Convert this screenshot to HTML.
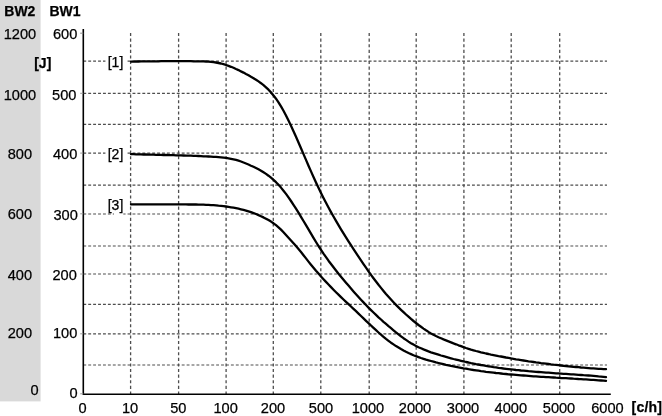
<!DOCTYPE html>
<html lang="en">
<head>
<meta charset="utf-8">
<title>BW1 / BW2 braking work chart</title>
<style>
html,body{margin:0;padding:0;background:#fff;}
body{width:662px;height:416px;overflow:hidden;}
svg{display:block;}
text{font-family:"Liberation Sans",Arial,Helvetica,sans-serif;font-size:14.6px;fill:#000;stroke:#000;stroke-width:.25px;}
.b{font-size:14px;font-weight:bold;}
.g{stroke:#4e4e4e;stroke-width:1.2;stroke-dasharray:2.9 2.02;fill:none;}
.gv{stroke:#4e4e4e;stroke-width:1.3;stroke-dasharray:3.1 2.5;fill:none;}
.ax{stroke:#000;stroke-width:1.6;fill:none;}
.cv{stroke:#000;stroke-width:2.3;fill:none;stroke-linejoin:round;stroke-linecap:round;}
.l{font-size:14px;}
</style>
</head>
<body>
<svg width="662" height="416" viewBox="0 0 662 416">
<rect x="0" y="0" width="662" height="416" fill="#fff"/>
<rect x="0" y="0" width="40.6" height="401.4" fill="#d9d9d9"/>

<g class="g">
<line x1="83.3" y1="93.3" x2="607.0" y2="93.3"/>
<line x1="83.3" y1="153.1" x2="607.0" y2="153.1"/>
<line x1="83.3" y1="214.0" x2="607.0" y2="214.0"/>
<line x1="83.3" y1="274.0" x2="607.0" y2="274.0"/>
<line x1="83.3" y1="333.9" x2="607.0" y2="333.9"/>
<line x1="83.3" y1="61.2" x2="607.0" y2="61.2"/>
<line x1="83.3" y1="124.3" x2="607.0" y2="124.3"/>
<line x1="83.3" y1="185.2" x2="607.0" y2="185.2"/>
<line x1="83.3" y1="246.0" x2="607.0" y2="246.0"/>
<line x1="83.3" y1="304.3" x2="607.0" y2="304.3"/>
<line x1="83.3" y1="365.0" x2="607.0" y2="365.0"/>
</g>
<g class="gv">
<line x1="130.6" y1="33.0" x2="130.6" y2="396.2"/>
<line x1="178.6" y1="33.0" x2="178.6" y2="396.2"/>
<line x1="226.1" y1="33.0" x2="226.1" y2="396.2"/>
<line x1="273.3" y1="33.0" x2="273.3" y2="396.2"/>
<line x1="320.8" y1="33.0" x2="320.8" y2="396.2"/>
<line x1="369.2" y1="33.0" x2="369.2" y2="396.2"/>
<line x1="416.2" y1="33.0" x2="416.2" y2="396.2"/>
<line x1="463.9" y1="33.0" x2="463.9" y2="396.2"/>
<line x1="511.2" y1="33.0" x2="511.2" y2="396.2"/>
<line x1="559.7" y1="33.0" x2="559.7" y2="396.2"/>
</g>
<rect x="105.5" y="58.2" width="20.5" height="6" fill="#fff"/>
<rect x="105.5" y="150.1" width="20.5" height="6" fill="#fff"/>
<rect x="114" y="211.5" width="9.3" height="5" fill="#fff"/>
<path class="ax" d="M83.3 29 V394.2 H610.8"/>
<path d="M80.2 33.2 H83.3" stroke="#888" stroke-width="1" fill="none"/>
<path d="M80.2 93.3 H83.3 M80.2 153.1 H83.3 M80.2 213.8H83.3 M80.2 274H83.3 M80.2 333.8H83.3 M80.2 393.8H83.3" stroke="#999" stroke-width="1" fill="none"/>
<path class="cv" d="M131.0 61.6L133.5 61.6 136.0 61.5 138.5 61.5 141.0 61.4 143.5 61.4 146.0 61.4 148.5 61.3 151.0 61.3 153.5 61.3 156.0 61.3 158.5 61.3 161.0 61.2 163.5 61.2 166.0 61.2 168.5 61.2 171.0 61.2 173.5 61.2 176.0 61.2 178.5 61.2 181.0 61.2 183.5 61.2 186.0 61.2 188.5 61.2 191.0 61.2 193.5 61.3 196.0 61.3 198.5 61.3 201.0 61.3 203.5 61.4 206.0 61.5 208.5 61.6 211.0 61.8 213.5 62.1 216.0 62.5 218.5 63.0 221.0 63.5 223.5 64.2 226.0 65.0 228.5 65.9 231.0 66.8 233.5 67.8 236.0 69.0 238.5 70.1 241.0 71.4 243.5 72.6 246.0 74.0 248.5 75.3 251.0 76.8 253.5 78.2 256.0 79.7 258.5 81.4 261.0 83.2 263.5 85.1 266.0 87.3 268.5 89.7 271.0 92.4 273.5 95.4 276.0 98.7 278.5 102.3 281.0 106.4 283.5 110.8 286.0 115.5 288.5 120.5 291.0 125.7 293.5 131.2 296.0 136.8 298.5 142.5 301.0 148.3 303.5 154.1 306.0 159.9 308.5 165.7 311.0 171.4 313.5 176.9 316.0 182.4 318.5 187.7 321.0 192.9 323.5 197.9 326.0 202.7 328.5 207.5 331.0 212.1 333.5 216.5 336.0 220.9 338.5 225.2 341.0 229.3 343.5 233.4 346.0 237.4 348.5 241.3 351.0 245.2 353.5 249.1 356.0 252.9 358.5 256.7 361.0 260.4 363.5 264.1 366.0 267.7 368.5 271.3 371.0 274.8 373.5 278.2 376.0 281.5 378.5 284.8 381.0 287.9 383.5 291.0 386.0 294.0 388.5 296.8 391.0 299.6 393.5 302.3 396.0 304.9 398.5 307.4 401.0 309.8 403.5 312.2 406.0 314.5 408.5 316.7 411.0 318.9 413.5 321.0 416.0 323.0 418.5 325.0 421.0 326.8 423.5 328.6 426.0 330.3 428.5 331.9 431.0 333.4 433.5 334.7 436.0 336.0 438.5 337.2 441.0 338.3 443.5 339.4 446.0 340.4 448.5 341.4 451.0 342.4 453.5 343.4 456.0 344.3 458.5 345.3 461.0 346.2 463.5 347.1 466.0 348.0 468.5 348.8 471.0 349.6 473.5 350.3 476.0 351.0 478.5 351.6 481.0 352.3 483.5 352.9 486.0 353.5 488.5 354.0 491.0 354.6 493.5 355.1 496.0 355.6 498.5 356.1 501.0 356.5 503.5 357.0 506.0 357.5 508.5 357.9 511.0 358.4 513.5 358.8 516.0 359.3 518.5 359.7 521.0 360.1 523.5 360.5 526.0 360.9 528.5 361.3 531.0 361.6 533.5 362.0 536.0 362.4 538.5 362.7 541.0 363.1 543.5 363.4 546.0 363.7 548.5 364.0 551.0 364.4 553.5 364.7 556.0 364.9 558.5 365.2 561.0 365.5 563.5 365.8 566.0 366.0 568.5 366.3 571.0 366.5 573.5 366.8 576.0 367.0 578.5 367.2 581.0 367.5 583.5 367.7 586.0 367.9 588.5 368.1 591.0 368.3 593.5 368.4 596.0 368.6 598.5 368.8 601.0 368.9 603.5 369.1 606.0 369.2"/>
<path class="cv" d="M131.0 154.1L133.5 154.2 136.0 154.3 138.5 154.3 141.0 154.4 143.5 154.5 146.0 154.5 148.5 154.6 151.0 154.7 153.5 154.7 156.0 154.8 158.5 154.8 161.0 154.9 163.5 155.0 166.0 155.0 168.5 155.1 171.0 155.1 173.5 155.2 176.0 155.3 178.5 155.3 181.0 155.4 183.5 155.5 186.0 155.6 188.5 155.7 191.0 155.7 193.5 155.8 196.0 155.9 198.5 156.0 201.0 156.1 203.5 156.3 206.0 156.4 208.5 156.5 211.0 156.6 213.5 156.8 216.0 156.9 218.5 157.1 221.0 157.3 223.5 157.6 226.0 157.9 228.5 158.3 231.0 158.8 233.5 159.3 236.0 159.9 238.5 160.7 241.0 161.5 243.5 162.5 246.0 163.5 248.5 164.5 251.0 165.7 253.5 166.8 256.0 168.0 258.5 169.3 261.0 170.7 263.5 172.3 266.0 173.9 268.5 175.7 271.0 177.7 273.5 179.8 276.0 182.2 278.5 184.8 281.0 187.6 283.5 190.7 286.0 193.9 288.5 197.4 291.0 201.0 293.5 204.8 296.0 208.7 298.5 212.7 301.0 216.8 303.5 221.0 306.0 225.2 308.5 229.4 311.0 233.7 313.5 237.8 316.0 242.0 318.5 246.0 321.0 249.8 323.5 253.6 326.0 257.2 328.5 260.7 331.0 264.0 333.5 267.3 336.0 270.5 338.5 273.7 341.0 276.7 343.5 279.7 346.0 282.7 348.5 285.6 351.0 288.5 353.5 291.4 356.0 294.2 358.5 297.0 361.0 299.7 363.5 302.4 366.0 305.0 368.5 307.6 371.0 310.1 373.5 312.5 376.0 314.9 378.5 317.3 381.0 319.5 383.5 321.8 386.0 323.9 388.5 326.1 391.0 328.2 393.5 330.3 396.0 332.4 398.5 334.4 401.0 336.3 403.5 338.2 406.0 339.9 408.5 341.6 411.0 343.2 413.5 344.6 416.0 345.9 418.5 347.2 421.0 348.3 423.5 349.4 426.0 350.4 428.5 351.4 431.0 352.3 433.5 353.1 436.0 353.9 438.5 354.7 441.0 355.5 443.5 356.2 446.0 356.9 448.5 357.6 451.0 358.3 453.5 359.0 456.0 359.6 458.5 360.2 461.0 360.8 463.5 361.4 466.0 362.0 468.5 362.5 471.0 363.1 473.5 363.6 476.0 364.1 478.5 364.5 481.0 365.0 483.5 365.4 486.0 365.9 488.5 366.3 491.0 366.7 493.5 367.1 496.0 367.4 498.5 367.8 501.0 368.1 503.5 368.5 506.0 368.8 508.5 369.1 511.0 369.4 513.5 369.7 516.0 370.0 518.5 370.2 521.0 370.5 523.5 370.7 526.0 370.9 528.5 371.2 531.0 371.4 533.5 371.6 536.0 371.8 538.5 372.0 541.0 372.2 543.5 372.4 546.0 372.6 548.5 372.7 551.0 372.9 553.5 373.1 556.0 373.3 558.5 373.4 561.0 373.6 563.5 373.8 566.0 373.9 568.5 374.1 571.0 374.3 573.5 374.4 576.0 374.6 578.5 374.8 581.0 375.0 583.5 375.2 586.0 375.3 588.5 375.5 591.0 375.7 593.5 375.9 596.0 376.1 598.5 376.4 601.0 376.6 603.5 376.8 606.0 377.1"/>
<path class="cv" d="M131.0 204.4L133.5 204.4 136.0 204.4 138.5 204.4 141.0 204.4 143.5 204.4 146.0 204.4 148.5 204.4 151.0 204.4 153.5 204.4 156.0 204.4 158.5 204.4 161.0 204.4 163.5 204.4 166.0 204.4 168.5 204.4 171.0 204.4 173.5 204.4 176.0 204.4 178.5 204.4 181.0 204.4 183.5 204.4 186.0 204.4 188.5 204.5 191.0 204.5 193.5 204.5 196.0 204.5 198.5 204.6 201.0 204.7 203.5 204.7 206.0 204.8 208.5 204.9 211.0 205.1 213.5 205.2 216.0 205.4 218.5 205.7 221.0 205.9 223.5 206.2 226.0 206.5 228.5 206.9 231.0 207.3 233.5 207.7 236.0 208.2 238.5 208.7 241.0 209.3 243.5 209.9 246.0 210.6 248.5 211.4 251.0 212.2 253.5 213.1 256.0 214.0 258.5 215.1 261.0 216.2 263.5 217.4 266.0 218.7 268.5 220.1 271.0 221.6 273.5 223.3 276.0 225.2 278.5 227.3 281.0 229.6 283.5 232.2 286.0 235.0 288.5 237.7 291.0 240.5 293.5 243.2 296.0 246.1 298.5 249.0 301.0 252.0 303.5 255.2 306.0 258.4 308.5 261.6 311.0 264.7 313.5 267.8 316.0 270.8 318.5 273.6 321.0 276.4 323.5 279.2 326.0 281.9 328.5 284.5 331.0 287.1 333.5 289.7 336.0 292.2 338.5 294.6 341.0 297.1 343.5 299.5 346.0 301.8 348.5 304.2 351.0 306.5 353.5 308.9 356.0 311.2 358.5 313.6 361.0 316.0 363.5 318.4 366.0 320.8 368.5 323.1 371.0 325.5 373.5 327.9 376.0 330.2 378.5 332.5 381.0 334.7 383.5 336.8 386.0 338.9 388.5 340.8 391.0 342.7 393.5 344.4 396.0 346.1 398.5 347.6 401.0 349.1 403.5 350.5 406.0 351.8 408.5 353.0 411.0 354.1 413.5 355.2 416.0 356.2 418.5 357.1 421.0 358.0 423.5 358.8 426.0 359.6 428.5 360.3 431.0 361.0 433.5 361.7 436.0 362.4 438.5 363.0 441.0 363.6 443.5 364.2 446.0 364.8 448.5 365.3 451.0 365.9 453.5 366.4 456.0 366.9 458.5 367.4 461.0 367.8 463.5 368.3 466.0 368.7 468.5 369.2 471.0 369.6 473.5 370.0 476.0 370.3 478.5 370.7 481.0 371.1 483.5 371.4 486.0 371.8 488.5 372.1 491.0 372.4 493.5 372.7 496.0 373.0 498.5 373.2 501.0 373.5 503.5 373.8 506.0 374.0 508.5 374.3 511.0 374.5 513.5 374.7 516.0 374.9 518.5 375.1 521.0 375.3 523.5 375.5 526.0 375.7 528.5 375.9 531.0 376.1 533.5 376.3 536.0 376.4 538.5 376.6 541.0 376.8 543.5 376.9 546.0 377.1 548.5 377.2 551.0 377.4 553.5 377.5 556.0 377.7 558.5 377.8 561.0 378.0 563.5 378.1 566.0 378.2 568.5 378.4 571.0 378.5 573.5 378.7 576.0 378.8 578.5 379.0 581.0 379.1 583.5 379.3 586.0 379.4 588.5 379.6 591.0 379.8 593.5 379.9 596.0 380.1 598.5 380.3 601.0 380.5 603.5 380.7 606.0 380.9"/>
<text x="4.3" y="16.4" class="b">BW2</text>
<text x="49.5" y="16.4" class="b">BW1</text>
<text x="34.2" y="67.5" class="b">[J]</text>
<text x="19.9" y="39.2" text-anchor="middle">1200</text>
<text x="19.9" y="100.3" text-anchor="middle">1000</text>
<text x="19.9" y="158.8" text-anchor="middle">800</text>
<text x="19.9" y="219.4" text-anchor="middle">600</text>
<text x="19.9" y="279.8" text-anchor="middle">400</text>
<text x="19.9" y="337.8" text-anchor="middle">200</text>
<text x="34.5" y="395.2" text-anchor="middle">0</text>
<text x="77.3" y="39.2" text-anchor="end">600</text>
<text x="76.4" y="100.3" text-anchor="end">500</text>
<text x="77.3" y="159.3" text-anchor="end">400</text>
<text x="77.8" y="219.9" text-anchor="end">300</text>
<text x="76.8" y="280.0" text-anchor="end">200</text>
<text x="77.3" y="338.2" text-anchor="end">100</text>
<text x="77.6" y="397.9" text-anchor="end">0</text>
<text x="115.5" y="66.5" class="l" text-anchor="middle">[1]</text>
<text x="115.5" y="159.4" class="l" text-anchor="middle">[2]</text>
<text x="115.5" y="209.5" class="l" text-anchor="middle">[3]</text>
<text x="82.5" y="412.9" text-anchor="middle">0</text>
<text x="130.0" y="412.9" text-anchor="middle">10</text>
<text x="178.3" y="412.9" text-anchor="middle">50</text>
<text x="225.6" y="412.9" text-anchor="middle">100</text>
<text x="273.0" y="412.9" text-anchor="middle">200</text>
<text x="321.0" y="412.9" text-anchor="middle">500</text>
<text x="367.9" y="412.9" text-anchor="middle">1000</text>
<text x="415.0" y="412.9" text-anchor="middle">2000</text>
<text x="463.0" y="412.9" text-anchor="middle">3000</text>
<text x="510.8" y="412.9" text-anchor="middle">4000</text>
<text x="559.0" y="412.9" text-anchor="middle">5000</text>
<text x="607.4" y="412.9" text-anchor="middle">6000</text>
<text x="631.6" y="412.4" class="b" letter-spacing="0.2">[c/h]</text>
</svg>
</body>
</html>
